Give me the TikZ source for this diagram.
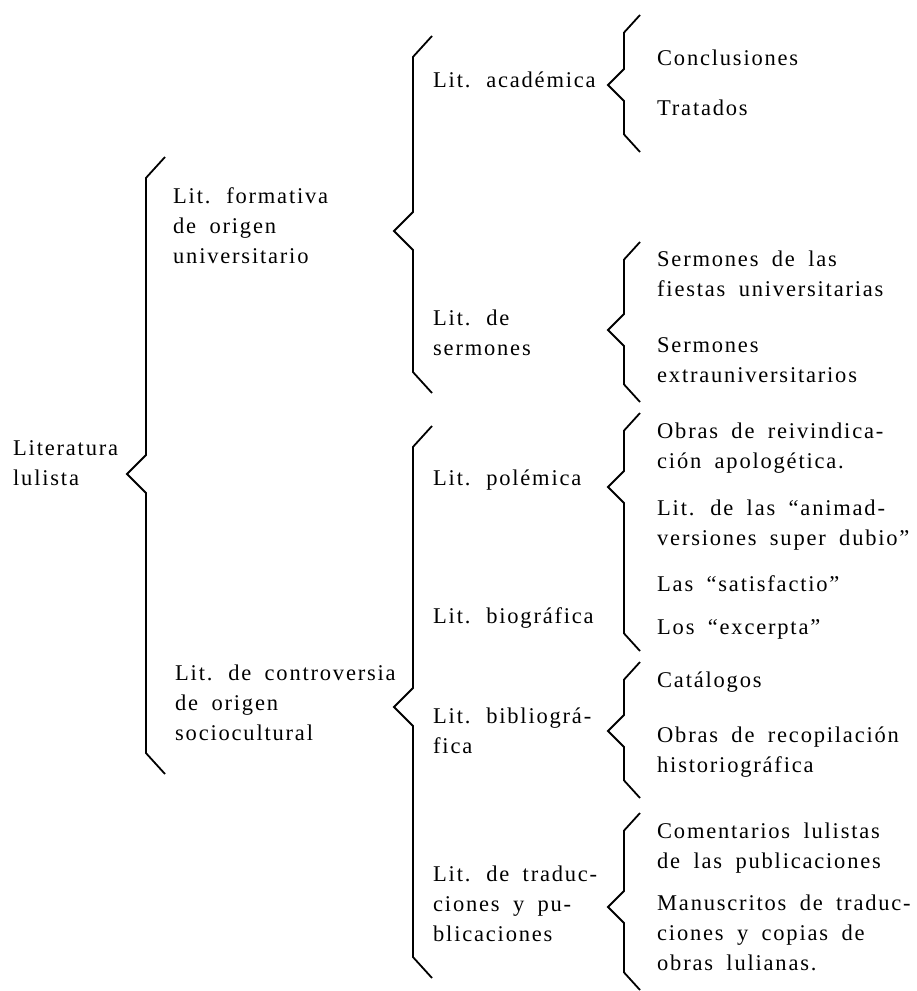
\documentclass[tikz,border=0pt]{standalone}
\usepackage{fontspec}
\setmainfont[LetterSpace=8,WordSpace=1.8]{Liberation Serif}
\usepackage{tikz}

% brace drawn from its tip: #1 tip, #2 arm, #3 rise above tip, #4 drop below tip
\newcommand{\brc}[4]{%
  \draw[brline] (#1) ++({2*#2},{-#3}) -- ++({-#2},{1.1*#2}) -- ++(0,{#3-2.1*#2})
    -- ++({-#2},{#2}) -- ++({#2},{#2}) -- ++(0,{#4-2.1*#2}) -- ++({#2},{1.1*#2});}

\begin{document}
\begin{tikzpicture}[x=1pt,y=-1pt,
  brline/.style={line width=1.8pt},
  txt/.style={align=left,anchor=base west,inner sep=0pt,font=\fontsize{22.5}{30}\selectfont}]

\useasboundingbox (0,0) rectangle (917,991);

% nodes sit on the baseline of their last line
% first level
\node[txt] (lul) at (13,485) {Literatura\\lulista};

% second level
\node[txt] (form) at (173,263) {Lit. formativa\\de origen\\universitario};
\node[txt] (contr) at (175,740) {Lit. de controversia\\de origen\\sociocultural};

% third level
\node[txt] (acad) at (433,87) {Lit. académica};
\node[txt] (serm) at (433,355) {Lit. de\\sermones};
\node[txt] (polem) at (433,485) {Lit. polémica};
\node[txt] (biog) at (433,623) {Lit. biográfica};
\node[txt] (bibl) at (433,753) {Lit. bibliográ-\\fica};
\node[txt] (trad) at (433,941) {Lit. de traduc-\\ciones y pu-\\blicaciones};

% fourth level
\node[txt] (concl) at (657,65) {Conclusiones};
\node[txt] (trat) at (657,115) {Tratados};
\node[txt] (fiest) at (657,296) {Sermones de las\\fiestas universitarias};
\node[txt] (extra) at (657,382) {Sermones\\extrauniversitarios};
\node[txt] (reiv) at (657,468) {Obras de reivindica-\\ción apologética.};
\node[txt] (anim) at (657,545) {Lit. de las “animad-\\versiones super dubio”};
\node[txt] (satis) at (657,591) {Las “satisfactio”};
\node[txt] (excer) at (657,634) {Los “excerpta”};
\node[txt] (catal) at (657,687) {Catálogos};
\node[txt] (recop) at (657,772) {Obras de recopilación\\historiográfica};
\node[txt] (coment) at (657,868) {Comentarios lulistas\\de las publicaciones};
\node[txt] (manus) at (657,970) {Manuscritos de traduc-\\ciones y copias de\\obras lulianas.};

% brace tips
\coordinate (lulTip) at (127,474);
\coordinate (formTip) at (394,231);
\coordinate (contrTip) at (394,707);
\coordinate (acadTip) at (608,85);
\coordinate (sermTip) at (608,330);
\coordinate (polemTip) at (608,487);
\coordinate (biblTip) at (608,731);
\coordinate (tradTip) at (608,907);

% braces
\brc{lulTip}{19}{317}{300}
\brc{formTip}{19}{195}{162}
\brc{contrTip}{19}{281}{271}
\brc{acadTip}{16}{70}{67}
\brc{sermTip}{16}{88}{72}
\brc{polemTip}{16}{74}{164}
\brc{biblTip}{16}{69}{67}
\brc{tradTip}{16}{94}{83}
\end{tikzpicture}
\end{document}
